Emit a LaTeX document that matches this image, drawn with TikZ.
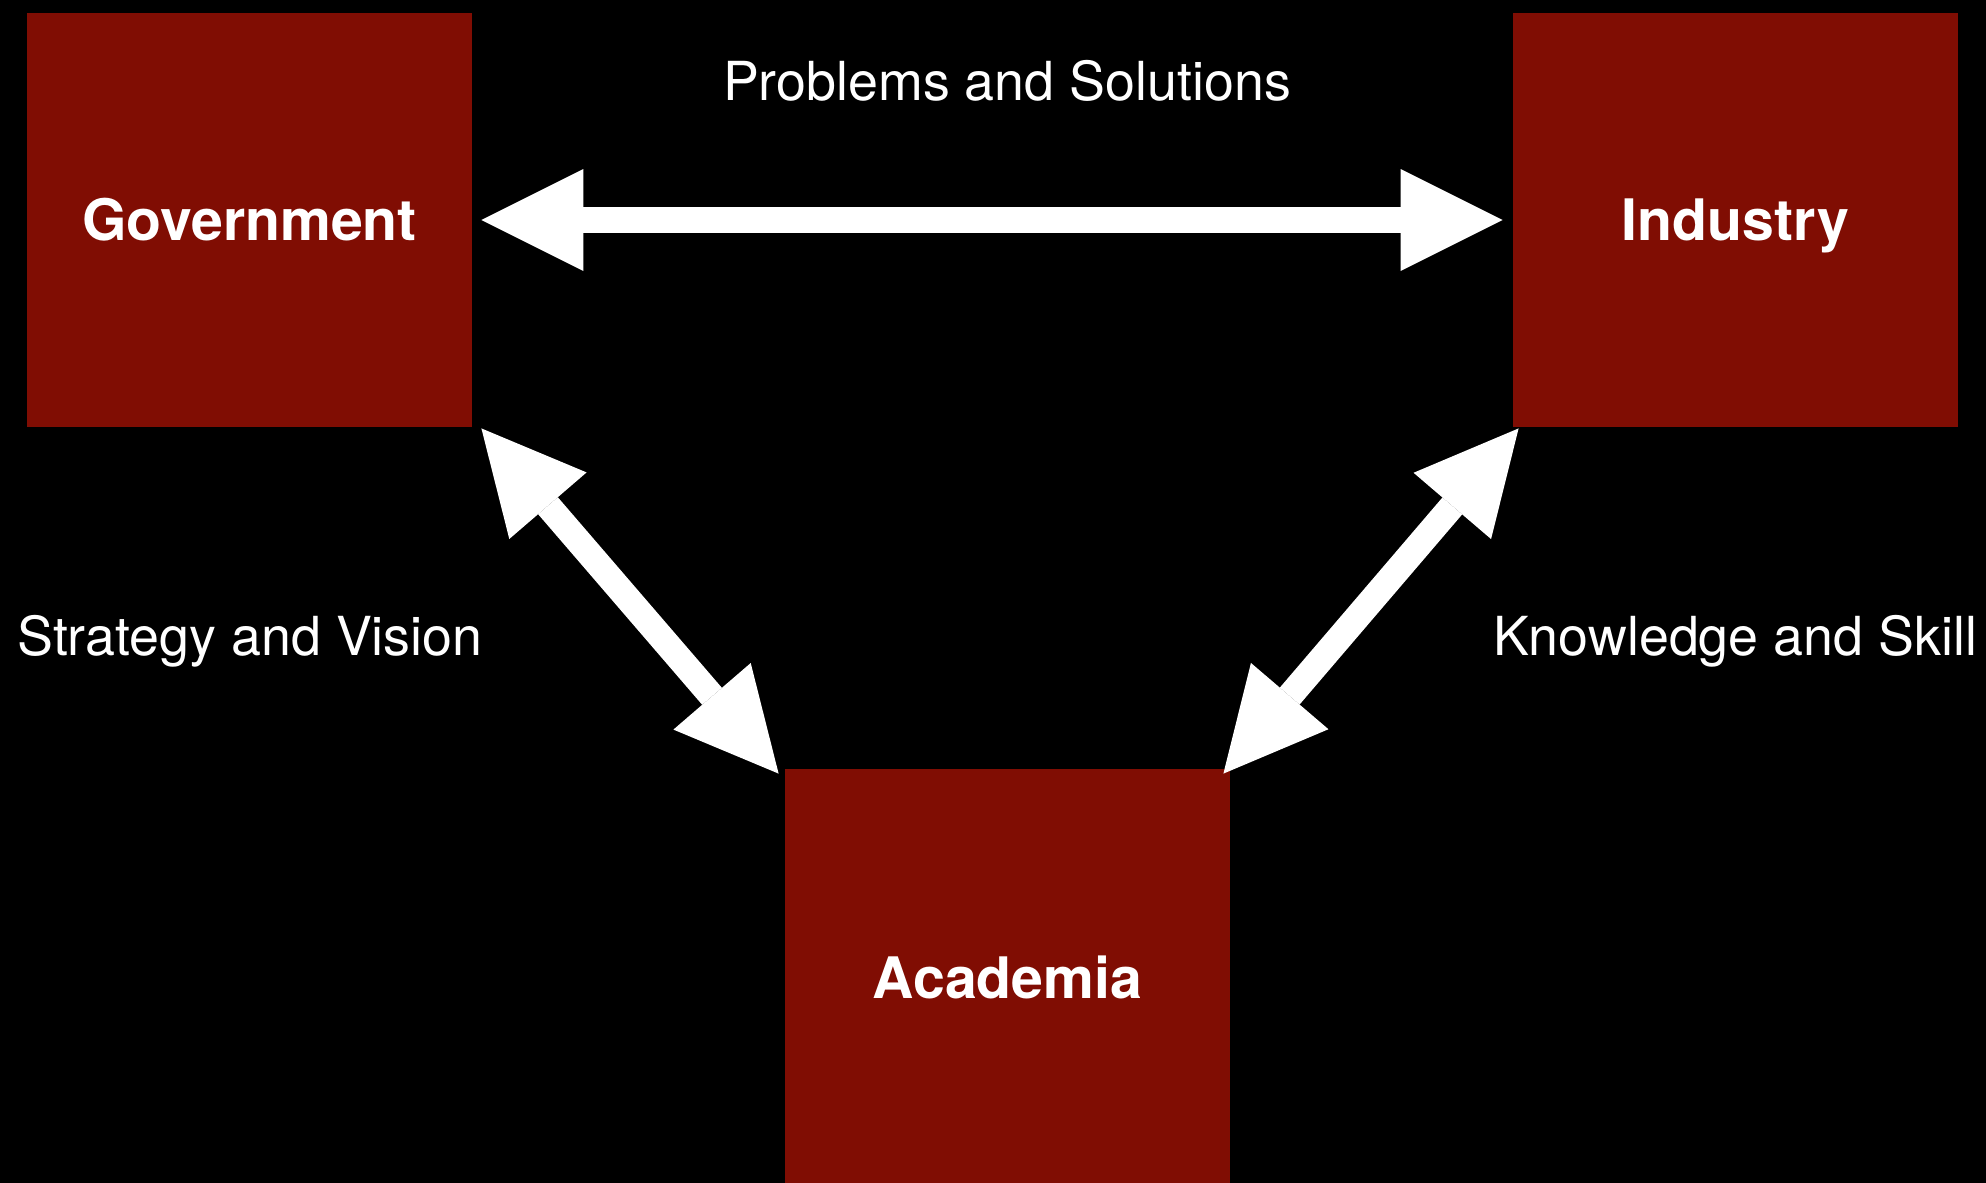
\documentclass[tikz,border=0pt]{standalone}
\usepackage{xcolor}
\usepackage{fontspec}
\setmainfont{TeX Gyre Heros}
\usepackage{tikz}
\usetikzlibrary{math,arrows.meta}
\definecolor{boxred}{RGB}{128,13,3}

\begin{document}
\begin{tikzpicture}[x=0.5pt,y=-0.5pt,
	actor/.style={fill=boxred,minimum width=222.5pt,minimum height=207pt,inner sep=0pt,
		text=white,font=\fontsize{28.6}{30}\selectfont\bfseries,text height=20.5pt,text depth=0pt},
	flow/.style={text=white,font=\fontsize{26.9}{30}\selectfont,anchor=base,inner sep=0pt},
	link/.style={draw=white,line width=13pt,
		{Triangle[length=51pt,width=51pt,line width=0pt]}-{Triangle[length=51pt,width=51pt,line width=0pt]}}]
\useasboundingbox (0,0) rectangle (1986,1183);
\fill[black] (-10,-10) rectangle (1996,1193);
\tikzmath{
	%
	{\node[actor] (gov) at (249.5,220) {Government};};
	{\node[actor] (ind) at (1735.5,220) {Industry};};
	{\node[actor,minimum height=209pt] (acad) at (1007.5,978) {Academia};};
	%
	{\node[flow] (ps) at (1007,100) {Problems and Solutions};};
	{\node[flow] (sv) at (250,655) {Strategy and Vision};};
	{\node[flow] (ks) at (1735,655) {Knowledge and Skill};};
	%
	{\draw[link,shorten <=4.5pt,shorten >=5pt] (gov.east) -- (ind.west);};
	{\draw[link] ([shift={(9,1)}]gov.south east) -- ([shift={(-6,5)}]acad.north west);};
	{\draw[link] ([shift={(6,1)}]ind.south west) -- ([shift={(-7,5)}]acad.north east);};
};
\end{tikzpicture}
\end{document}
